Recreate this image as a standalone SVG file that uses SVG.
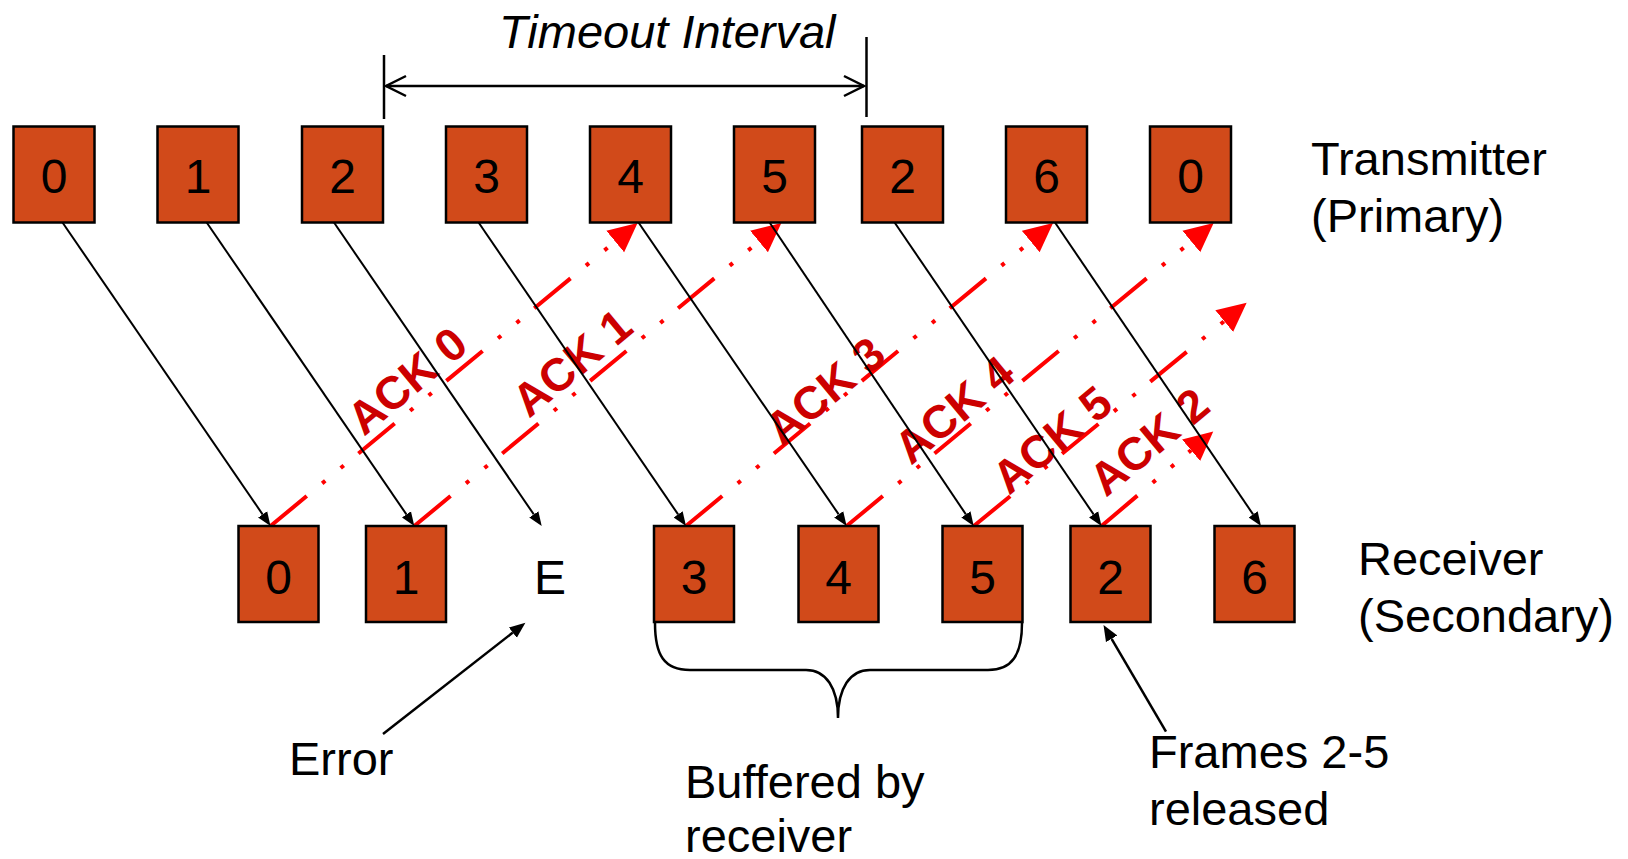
<svg xmlns="http://www.w3.org/2000/svg" width="1628" height="859" viewBox="0 0 1628 859">
  <style>
    .box { fill: #D14A1A; stroke: #000; stroke-width: 2.5; }
    .num { font-family: "Liberation Sans", Arial, sans-serif; font-size: 48px; text-anchor: middle; fill: #000; }
    .lbl { font-family: "Liberation Sans", Arial, sans-serif; font-size: 47px; fill: #000; }
    .frame { stroke: #000; stroke-width: 2; fill: none; marker-end: url(#frameHead); }
    .callout { stroke: #000; stroke-width: 2.5; fill: none; marker-end: url(#calloutHead); }
    .ack { stroke: #FF0000; stroke-width: 4; fill: none; stroke-dasharray: 47 20 4 20 4 19; marker-end: url(#ackHead); }
    .acklbl { font-family: "Liberation Sans", Arial, sans-serif; font-size: 46px; font-weight: bold; fill: #CC0000; }
    .dim { stroke: #000; stroke-width: 2.5; fill: none; }
  </style>
  <defs>
    <marker id="frameHead" markerUnits="userSpaceOnUse" viewBox="0 -6 15 12" markerWidth="15" markerHeight="12" refX="0" refY="0" orient="auto">
      <path d="M0,-5.5 L14,0 L0,5.5 Z" fill="#000"/>
    </marker>
    <marker id="calloutHead" markerUnits="userSpaceOnUse" viewBox="0 -7 17 14" markerWidth="17" markerHeight="14" refX="0" refY="0" orient="auto">
      <path d="M0,-6.5 L16,0 L0,6.5 Z" fill="#000"/>
    </marker>
    <marker id="ackHead" markerUnits="userSpaceOnUse" viewBox="0 -15 30 30" markerWidth="30" markerHeight="30" refX="0" refY="0" orient="auto">
      <path d="M0,-14 L29,0 L0,14 Z" fill="#FF0000"/>
    </marker>
    <marker id="openHead" markerUnits="userSpaceOnUse" viewBox="0 -12 24 24" markerWidth="24" markerHeight="24" refX="21" refY="0" orient="auto-start-reverse">
      <path d="M1,-10 L21,0 L1,10" fill="none" stroke="#000" stroke-width="2.5"/>
    </marker>
  </defs>

  <!-- timeout interval dimension -->
  <g id="timeout">
    <text class="lbl" x="499" y="48" font-style="italic" font-size="47.5">Timeout Interval</text>
    <line class="dim" x1="384" y1="55" x2="384" y2="119"/>
    <line class="dim" x1="866.5" y1="37" x2="866.5" y2="117"/>
    <line class="dim" x1="386" y1="86" x2="864" y2="86" marker-start="url(#openHead)" marker-end="url(#openHead)"/>
  </g>

  <!-- ACK connectors (receiver to transmitter) -->
  <g id="acks">
    <line class="ack" x1="270.5" y1="526" x2="615.2" y2="241.5"/>
    <line class="ack" x1="414.3" y1="526" x2="759" y2="241.5"/>
    <line class="ack" x1="686" y1="526" x2="1030.7" y2="241.5"/>
    <line class="ack" x1="846.6" y1="526" x2="1191.3" y2="241.5"/>
    <line class="ack" x1="973.8" y1="526" x2="1224.2" y2="321.2"/>
    <line class="ack" x1="1101.5" y1="526" x2="1191.1" y2="450.2"/>
  </g>

  <g id="ack-labels">
    <text class="acklbl" transform="translate(364,437) rotate(-39.6)">ACK 0</text>
    <text class="acklbl" transform="translate(529,419) rotate(-39.6)">ACK 1</text>
    <text class="acklbl" transform="translate(782,447) rotate(-39.6)">ACK 3</text>
    <text class="acklbl" transform="translate(911,466) rotate(-39.6)">ACK 4</text>
    <text class="acklbl" transform="translate(1009,496) rotate(-39.6)">ACK 5</text>
    <text class="acklbl" transform="translate(1106,498) rotate(-39.6)">ACK 2</text>
  </g>

  <!-- frame connectors (transmitter to receiver) -->
  <g id="frames">
    <line class="frame" x1="62.5" y1="222.5" x2="262.6" y2="514.4"/>
    <line class="frame" x1="206.7" y1="222.5" x2="406.4" y2="514.4"/>
    <line class="frame" x1="334" y1="222.5" x2="533.8" y2="514.4"/>
    <line class="frame" x1="478.6" y1="222.5" x2="678.1" y2="514.4"/>
    <line class="frame" x1="638.5" y1="222.5" x2="838.7" y2="514.4"/>
    <line class="frame" x1="769.6" y1="222.5" x2="965.9" y2="514.4"/>
    <line class="frame" x1="894.6" y1="222.5" x2="1093.6" y2="514.4"/>
    <line class="frame" x1="1055" y1="222.5" x2="1253.1" y2="514.4"/>
  </g>

  <!-- transmitter frames -->
  <g id="tx-0a"><rect class="box" x="13.5" y="126.5" width="81" height="96"/><text class="num" x="54" y="192.5">0</text></g>
  <g id="tx-1"><rect class="box" x="157.5" y="126.5" width="81" height="96"/><text class="num" x="198" y="192.5">1</text></g>
  <g id="tx-2a"><rect class="box" x="302" y="126.5" width="81" height="96"/><text class="num" x="342.5" y="192.5">2</text></g>
  <g id="tx-3"><rect class="box" x="446" y="126.5" width="81" height="96"/><text class="num" x="486.5" y="192.5">3</text></g>
  <g id="tx-4"><rect class="box" x="590" y="126.5" width="81" height="96"/><text class="num" x="630.5" y="192.5">4</text></g>
  <g id="tx-5"><rect class="box" x="734" y="126.5" width="81" height="96"/><text class="num" x="774.5" y="192.5">5</text></g>
  <g id="tx-2b"><rect class="box" x="862" y="126.5" width="81" height="96"/><text class="num" x="902.5" y="192.5">2</text></g>
  <g id="tx-6"><rect class="box" x="1006" y="126.5" width="81" height="96"/><text class="num" x="1046.5" y="192.5">6</text></g>
  <g id="tx-0b"><rect class="box" x="1150" y="126.5" width="81" height="96"/><text class="num" x="1190.5" y="192.5">0</text></g>

  <!-- receiver frames -->
  <g id="rx-0"><rect class="box" x="238.5" y="526" width="80" height="96"/><text class="num" x="278.5" y="593.5">0</text></g>
  <g id="rx-1"><rect class="box" x="366" y="526" width="80" height="96"/><text class="num" x="406" y="593.5">1</text></g>
  <g id="rx-err"><text class="num" x="550" y="593.5" font-size="46">E</text></g>
  <g id="rx-3"><rect class="box" x="654" y="526" width="80" height="96"/><text class="num" x="694" y="593.5">3</text></g>
  <g id="rx-4"><rect class="box" x="798.5" y="526" width="80" height="96"/><text class="num" x="838.5" y="593.5">4</text></g>
  <g id="rx-5"><rect class="box" x="942.5" y="526" width="80" height="96"/><text class="num" x="982.5" y="593.5">5</text></g>
  <g id="rx-2"><rect class="box" x="1070.5" y="526" width="80" height="96"/><text class="num" x="1110.5" y="593.5">2</text></g>
  <g id="rx-6"><rect class="box" x="1214.5" y="526" width="80" height="96"/><text class="num" x="1254.5" y="593.5">6</text></g>

  <!-- side labels -->
  <g id="transmitter-label">
    <text class="lbl" x="1311" y="175">Transmitter</text>
    <text class="lbl" x="1311" y="232">(Primary)</text>
  </g>
  <g id="receiver-label">
    <text class="lbl" x="1358" y="575">Receiver</text>
    <text class="lbl" x="1358" y="632">(Secondary)</text>
  </g>

  <!-- annotations -->
  <g id="error-note">
    <line class="callout" x1="383" y1="734" x2="512.8" y2="632.6"/>
    <text class="lbl" x="289" y="775">Error</text>
  </g>
  <g id="buffer-note">
    <path class="dim" stroke-width="2" d="M655,623 C655,655 664,670 690,670 L806,670 C826,670 838,688 838,718 C838,688 850,670 870,670 L988,670 C1012,670 1022,655 1022,623"/>
    <text class="lbl" x="685" y="798">Buffered by</text>
    <text class="lbl" x="685" y="852">receiver</text>
  </g>
  <g id="release-note">
    <line class="callout" x1="1166" y1="731.7" x2="1111.6" y2="638.8"/>
    <text class="lbl" x="1149" y="768">Frames 2-5</text>
    <text class="lbl" x="1149" y="825">released</text>
  </g>
</svg>
